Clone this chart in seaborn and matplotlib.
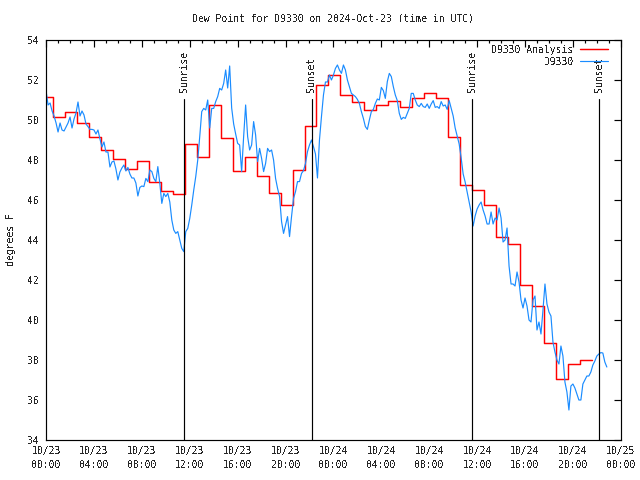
"""
Dew point chart for station D9330: hourly analysis (step line) vs. 10-minute
observations, with sunrise / sunset markers.
"""

import matplotlib
matplotlib.use("Agg")  # no display
import matplotlib.dates as mdates
import matplotlib.pyplot as plt
import numpy as np
import pandas as pd
import seaborn as sns


# --------------------------------------------------------------------------- #
# Data
# --------------------------------------------------------------------------- #

TITLE = "Dew Point for D9330 on 2024-Oct-23 (time in UTC)"
Y_LABEL = "degrees F"

# observations, one value every 10 minutes starting 2024-10-23 00:00 UTC
OBS_START = "2024-10-23 00:00"
OBS_DEWPT = [
    51.45, 50.75, 50.85, 50.45, 50.2, 49.85, 49.4, 49.85, 49.5, 49.45, 49.65, 49.85,
    50.15, 49.6, 50.05, 50.35, 50.9, 50.2, 50.45, 50.25, 49.8, 49.67, 49.53, 49.53,
    49.5, 49.3, 49.5, 49.05, 48.65, 48.9, 48.4, 48.4, 47.65, 47.9, 47.95, 47.55,
    47.0, 47.4, 47.6, 47.75, 47.45, 47.63, 47.3, 47.1, 47.1, 46.85, 46.2, 46.63,
    46.7, 46.67, 47.08, 46.92, 47.5, 47.42, 47.08, 46.92, 47.67, 46.83, 45.83, 46.33,
    46.17, 46.33, 45.9, 45.0, 44.5, 44.33, 44.42, 44.0, 43.58, 43.42, 44.42, 44.58,
    45.08, 45.75, 46.5, 47.17, 48.0, 49.17, 50.42, 50.58, 50.5, 51.0, 49.6, 50.58,
    50.58, 50.92, 51.17, 51.58, 51.5, 51.83, 52.5, 51.6, 52.7, 50.6, 49.8, 49.3,
    48.83, 48.75, 47.42, 49.17, 50.75, 49.17, 48.5, 48.75, 49.92, 49.25, 47.92, 48.58,
    48.08, 47.42, 47.83, 48.58, 48.42, 48.5, 48.0, 47.08, 46.58, 46.17, 44.92, 44.33,
    44.75, 45.17, 44.17, 45.17, 46.08, 46.42, 46.92, 46.92, 47.33, 47.47, 47.83, 48.42,
    48.75, 49.0, 48.67, 48.3, 47.1, 49.0, 50.17, 51.25, 51.9, 51.9, 52.25, 52.0,
    52.25, 52.58, 52.75, 52.5, 52.33, 52.75, 52.5, 52.0, 51.67, 51.33, 51.25, 51.17,
    51.03, 50.83, 50.42, 50.08, 49.67, 49.53, 50.0, 50.42, 50.53, 50.83, 51.05, 51.0,
    51.63, 51.47, 51.08, 51.92, 52.33, 52.17, 51.67, 51.25, 50.97, 50.33, 50.03, 50.13,
    50.08, 50.33, 50.58, 51.33, 51.33, 51.0, 50.75, 50.67, 50.83, 50.67, 50.63, 50.8,
    50.58, 50.8, 50.97, 50.63, 50.67, 50.58, 50.92, 50.7, 50.75, 50.53, 50.97, 50.58,
    50.2, 49.6, 49.2, 48.8, 48.1, 47.3, 46.9, 46.4, 45.9, 45.4, 44.7, 45.2,
    45.55, 45.75, 45.9, 45.5, 45.2, 44.8, 44.8, 45.4, 44.8, 45.1, 45.0, 45.6,
    45.1, 43.9, 44.0, 44.6, 42.7, 41.8, 41.8, 41.7, 42.4, 41.9, 41.0, 40.6,
    41.1, 40.7, 40.0, 39.9, 41.0, 41.2, 39.5, 39.9, 39.3, 40.5, 41.8, 40.8,
    40.4, 40.2, 38.9, 38.4, 38.0, 37.8, 38.7, 38.2, 36.9, 36.4, 35.5, 36.7,
    36.8, 36.6, 36.3, 36.0, 36.0, 36.8, 37.0, 37.2, 37.2, 37.4, 37.75, 37.95,
    38.2, 38.3, 38.37, 38.35, 37.9, 37.65,
]

# hourly analysis, valid at hh:35
ANALYSIS_START = "2024-10-22 23:35"
ANALYSIS_DEWPT = [
    51.13, 50.17, 50.4, 49.87, 49.13, 48.5, 48.03, 47.55, 47.95, 46.88, 46.47, 46.3,
    48.78, 48.17, 50.73, 49.08, 47.45, 48.13, 47.2, 46.33, 45.75, 47.5, 49.72, 51.75,
    52.25, 51.23, 50.9, 50.48, 50.73, 50.93, 50.63, 51.08, 51.33, 51.08, 49.13, 46.74,
    46.5, 45.74, 44.15, 43.79, 41.75, 40.7, 38.83, 37.03, 37.8, 38.0,
]

EVENT_TIMES = ["2024-10-23 11:31", "2024-10-23 22:11", "2024-10-24 11:34", "2024-10-24 22:11"]
EVENT_LABELS = ["Sunrise", "Sunset", "Sunrise", "Sunset"]

X_START = "2024-10-23 00:00"
X_END = "2024-10-25 00:00"
Y_TICKS = np.arange(34, 56, 2)

SERIES_LABELS = ["D9330 Analysis", "D9330"]
ANALYSIS_COLOR = "#ff0000"
OBS_COLOR = "#1a8cff"

LW = 0.85  # thin, close to 1 px


# --------------------------------------------------------------------------- #
# Frames
# --------------------------------------------------------------------------- #

obs_df = pd.DataFrame({
    "time": pd.date_range(OBS_START, periods=len(OBS_DEWPT), freq="10min"),
    "dewpt": OBS_DEWPT,
})

# repeat last analysis value so the final step has a width
ana_df = pd.DataFrame({
    "time": pd.date_range(ANALYSIS_START, periods=len(ANALYSIS_DEWPT) + 1, freq="h"),
    "dewpt": ANALYSIS_DEWPT + ANALYSIS_DEWPT[-1:],
})


# --------------------------------------------------------------------------- #
# Plot
# --------------------------------------------------------------------------- #

sns.set_style("white")
plt.rcParams["font.family"] = ["DejaVu Sans Mono"]
plt.rcParams["font.size"] = 7
plt.rcParams["text.antialiased"] = False  # crisp, bitmap-like text

fig, ax = plt.subplots(figsize=(6.4, 4.8), dpi=100)
fig.subplots_adjust(left=0.072, right=0.970, top=0.9167, bottom=0.0833)

sns.lineplot(data=ana_df, x="time", y="dewpt", drawstyle="steps-post",
             color=ANALYSIS_COLOR, linewidth=LW + 0.2,
             label=SERIES_LABELS[0], ax=ax)
# pad the short label so it lines up on the right (monospace font)
width = max(len(s) for s in SERIES_LABELS)
sns.lineplot(data=obs_df, x="time", y="dewpt", color=OBS_COLOR, linewidth=LW,
             label=SERIES_LABELS[1].rjust(width), ax=ax)

ymin, ymax = Y_TICKS[0], Y_TICKS[-1]
for t, lbl in zip(pd.to_datetime(EVENT_TIMES), EVENT_LABELS):
    ax.axvline(t, ymin=0, ymax=(51.05 - ymin) / (ymax - ymin), color="black", lw=LW)
    ax.text(t, 51.4, lbl, rotation=90, ha="center", va="bottom", fontsize=7)

ax.set_xlim(pd.Timestamp(X_START), pd.Timestamp(X_END))
ax.set_ylim(ymin, ymax)
ax.set_yticks(Y_TICKS)

ax.xaxis.set_major_locator(mdates.HourLocator(byhour=range(0, 24, 4)))
ax.xaxis.set_minor_locator(mdates.HourLocator())
ax.xaxis.set_major_formatter(mdates.DateFormatter("%m/%d\n%H:%M"))

ax.tick_params(which="both", direction="in", top=True, right=True,
               color="black", width=LW, labelsize=7)
ax.tick_params(which="major", length=5)
ax.tick_params(which="minor", length=2.5)
ax.tick_params(axis="x", pad=4)
ax.tick_params(axis="y", pad=5)
for lbl in ax.get_xticklabels():
    lbl.set_linespacing(1.55)

for spine in ax.spines.values():
    spine.set_color("black")
    spine.set_linewidth(LW)

ax.set_xlabel("")
ax.set_ylabel(Y_LABEL, fontsize=7, labelpad=8)
ax.set_title(TITLE, fontsize=7, pad=13)

ax.legend(loc="upper right", bbox_to_anchor=(0.986, 1.0), frameon=False,
          markerfirst=False, fontsize=7, handlelength=2.9, handletextpad=0.7,
          labelspacing=0.2, borderpad=0.2, borderaxespad=0.3)

fig.savefig("out.png", dpi=100)
plt.close(fig)
